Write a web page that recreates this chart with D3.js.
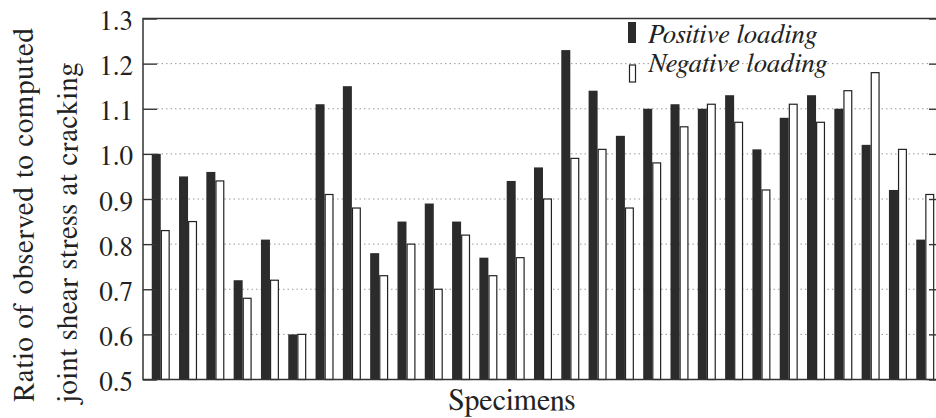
<!DOCTYPE html>
<html>
<head>
<meta charset="utf-8">
<script src="https://cdn.jsdelivr.net/npm/d3@7"></script>
</head>
<body style="margin:0;background:#fff">
<div id="general"></div>
<script>
const w = 936, h = 418;
const m = { l: 143, r: 943, t: 18.5, b: 379.5 };
const serif = "'Nimbus Roman', 'Nimbus Roman No9 L', FreeSerif, 'Noto Serif', 'Noto Serif CJK SC', 'Source Han Serif SC', 'URW Palladio L', 'P052', Georgia, 'Liberation Serif', 'DejaVu Serif', serif";

// ratio of observed to computed joint shear stress at cracking, one per specimen
const specimens = d3.range(1, 30);
const positive = [1.00, 0.95, 0.96, 0.72, 0.81, 0.60, 1.11, 1.15, 0.78, 0.85, 0.89, 0.85, 0.77, 0.94, 0.97,
  1.23, 1.14, 1.04, 1.10, 1.11, 1.10, 1.13, 1.01, 1.08, 1.13, 1.10, 1.02, 0.92, 0.81];
const negative = [0.83, 0.85, 0.94, 0.68, 0.72, 0.60, 0.91, 0.88, 0.73, 0.80, 0.70, 0.82, 0.73, 0.77, 0.90,
  0.99, 1.01, 0.88, 0.98, 1.06, 1.11, 1.07, 0.92, 1.11, 1.07, 1.14, 1.18, 1.01, 0.91];
const yTicks = [0.5, 0.6, 0.7, 0.8, 0.9, 1.0, 1.1, 1.2, 1.3];
const series = ["Positive loading", "Negative loading"];

const rows = specimens.map((s, i) => ({ s, Positive: positive[i], Negative: negative[i] }));

const svg = d3.select("#general").append("svg")
  .attr("width", w).attr("height", h)
  .attr("viewBox", `0 0 ${w} ${h}`)
  .style("font-family", serif);

const x = d3.scaleBand().domain(specimens).range([m.l, m.r])
  .paddingInner(0.34).paddingOuter(0.32);
const xs = d3.scaleBand().domain(["Positive", "Negative"]).range([0, x.bandwidth()]);
const y = d3.scaleLinear().domain([0.5, 1.3]).range([m.b, m.t]);

// dotted grid
svg.append("g")
  .selectAll("line")
  .data(yTicks.filter(d => d > 0.5 && d < 1.3))
  .join("line")
    .attr("x1", m.l + 14).attr("x2", m.r - 14)
    .attr("y1", d => y(d)).attr("y2", d => y(d))
    .attr("stroke", "#9a9a9a")
    .attr("stroke-width", 1)
    .attr("stroke-dasharray", "1.5,3");

// bars
const grp = svg.append("g").selectAll("g")
  .data(rows)
  .join("g")
    .attr("transform", d => `translate(${x(d.s)},0)`);

grp.append("rect")
  .attr("x", xs("Positive"))
  .attr("width", xs.bandwidth())
  .attr("y", d => y(d.Positive))
  .attr("height", d => y(0.5) - y(d.Positive))
  .attr("fill", "#2b2b2b");

grp.append("rect")
  .attr("x", xs("Negative") + 0.6)
  .attr("width", xs.bandwidth() - 1.2)
  .attr("y", d => y(d.Negative))
  .attr("height", d => y(0.5) - y(d.Negative))
  .attr("fill", "#fff")
  .attr("stroke", "#222")
  .attr("stroke-width", 1.2);

// axes: left with labels, right with inward ticks only
const left = svg.append("g")
  .attr("transform", `translate(${m.l},0)`)
  .call(d3.axisRight(y).tickValues(yTicks).tickSize(14).tickFormat(""));
left.select(".domain").remove();
left.selectAll("line").attr("stroke", "#333").attr("stroke-width", 1.4);

svg.append("g")
  .selectAll("text")
  .data(yTicks)
  .join("text")
    .attr("x", m.l - 10)
    .attr("y", d => y(d))
    .attr("dy", "0.43em")
    .attr("text-anchor", "end")
    .attr("font-size", 27)
    .attr("fill", "#222")
    .text(d => d3.format(".1f")(d));

const right = svg.append("g")
  .attr("transform", `translate(${m.r},0)`)
  .call(d3.axisLeft(y).tickValues(yTicks).tickSize(14).tickFormat(""));
right.select(".domain").remove();
right.selectAll("line").attr("stroke", "#333").attr("stroke-width", 1.4);

// frame
svg.append("rect")
  .attr("x", m.l).attr("y", m.t)
  .attr("width", m.r - m.l).attr("height", m.b - m.t)
  .attr("fill", "none")
  .attr("stroke", "#333")
  .attr("stroke-width", 1.5);

// axis titles
svg.append("text")
  .attr("x", 512).attr("y", 410)
  .attr("text-anchor", "middle")
  .attr("font-size", 30)
  .attr("fill", "#222")
  .text("Specimens");

svg.append("text")
  .attr("transform", "translate(33,402) rotate(-90)")
  .attr("font-size", 29)
  .attr("textLength", 374)
  .attr("lengthAdjust", "spacing")
  .attr("fill", "#222")
  .text("Ratio of observed to computed");

svg.append("text")
  .attr("transform", "translate(77,405) rotate(-90)")
  .attr("font-size", 29)
  .attr("textLength", 342)
  .attr("lengthAdjust", "spacing")
  .attr("fill", "#222")
  .text("joint shear stress at cracking");

// legend
const lg = svg.append("g");
lg.append("rect")
  .attr("x", 628).attr("y", 22).attr("width", 8).attr("height", 21)
  .attr("fill", "#2b2b2b");
lg.append("rect")
  .attr("x", 629.5).attr("y", 65).attr("width", 6).attr("height", 17)
  .attr("fill", "#fff").attr("stroke", "#222").attr("stroke-width", 1.2);
lg.selectAll("text")
  .data(series)
  .join("text")
    .attr("x", 648)
    .attr("y", (d, i) => 43.3 + i * 28.4)
    .attr("font-size", 27)
    .attr("font-style", "italic")
    .attr("textLength", (d, i) => [169, 179][i])
    .attr("lengthAdjust", "spacing")
    .attr("fill", "#222")
    .text(d => d);
</script>
</body>
</html>
